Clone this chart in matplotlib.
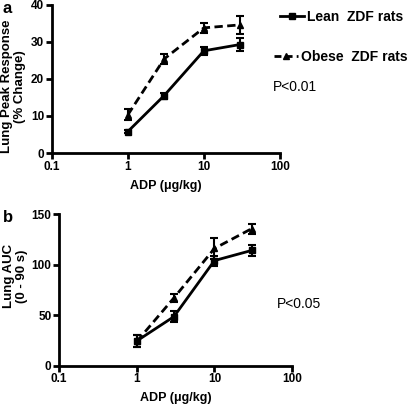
import matplotlib
matplotlib.use("Agg")
import matplotlib.pyplot as plt
from matplotlib.lines import Line2D

plt.rcParams['font.family'] = ['Liberation Sans', 'DejaVu Sans']

# doses (ug/kg)
dose = [1, 3, 10, 30]

# panel a: lung peak response (% change)
lean_peak = [5.8, 15.5, 27.6, 29.3]
lean_peak_err = [0.4, 0.8, 1.0, 1.8]
obese_peak = [10.3, 25.4, 33.8, 34.6]
obese_peak_err = [1.5, 1.4, 1.4, 2.5]

# panel b: lung AUC (0 - 90 s)
lean_auc = [24.5, 48.5, 104.0, 114.0]
lean_auc_err = [6.0, 5.5, 5.0, 5.5]
obese_auc = [24.0, 67.0, 116.0, 135.5]
obese_auc_err = [6.0, 4.0, 10.5, 5.0]

xticks = [0.1, 1, 10, 100]
xticklabels = ['0.1', '1', '10', '100']

fig = plt.figure(figsize=(4.08, 4.07), dpi=100)
ax1 = fig.add_axes([0.127, 0.624, 0.559, 0.364])
ax2 = fig.add_axes([0.145, 0.1015, 0.571, 0.3725])


def style_axis(ax, ylim, yticks):
    ax.set_xscale('log')
    ax.set_xlim(0.1, 100)
    ax.set_ylim(*ylim)
    ax.set_xticks(xticks)
    ax.set_xticklabels(xticklabels)
    ax.minorticks_off()
    ax.set_yticks(yticks)
    for s in ['top', 'right']:
        ax.spines[s].set_visible(False)
    for s in ['left', 'bottom']:
        ax.spines[s].set_linewidth(2)
    ax.tick_params(width=2, length=4, labelsize=8.5, direction='out', pad=1.5)
    for t in ax.get_xticklabels() + ax.get_yticklabels():
        t.set_fontweight('bold')
    ax.set_xlabel(u'ADP (\u03bcg/kg)', fontsize=9, fontweight='bold', labelpad=5)


def draw(ax, lean, lean_err, obese, obese_err):
    ax.errorbar(dose, lean, yerr=lean_err, color='black', lw=2, marker='s',
                ms=5, capsize=3, capthick=1.5, elinewidth=1.5, clip_on=False)
    ax.errorbar(dose, obese, yerr=obese_err, color='black', lw=2, ls='--',
                dashes=(3, 1.6), marker='^', ms=5, capsize=3, capthick=1.5,
                elinewidth=1.5, clip_on=False)


draw(ax1, lean_peak, lean_peak_err, obese_peak, obese_peak_err)
style_axis(ax1, (0, 40), [0, 10, 20, 30, 40])
ax1.set_ylabel('Lung Peak Response\n(% Change)', fontsize=9.5, fontweight='bold',
               linespacing=1.1)
ax1.yaxis.set_label_coords(-0.112, 0.45)

draw(ax2, lean_auc, lean_auc_err, obese_auc, obese_auc_err)
style_axis(ax2, (0, 150), [0, 50, 100, 150])
ax2.set_ylabel('Lung AUC\n(0 - 90 s)', fontsize=9.5, fontweight='bold',
               linespacing=1.1)
ax2.yaxis.set_label_coords(-0.135, 0.59)

# legend on the right: two separate entries, as in the original
lean_handle = Line2D([], [], color='black', lw=2, marker='s', ms=4)
obese_handle = Line2D([], [], color='black', lw=2, ls='--', dashes=(2.5, 1.5),
                      marker='^', ms=4)
leg1 = fig.legend([lean_handle], ['Lean  ZDF rats'], loc='center left',
                  bbox_to_anchor=(0.686, 0.958), frameon=False, borderpad=0,
                  borderaxespad=0, prop={'size': 10, 'weight': 'bold'},
                  handlelength=1.75, handletextpad=0.2)
leg2 = fig.legend([obese_handle], ['Obese  ZDF rats'], loc='center left',
                  bbox_to_anchor=(0.672, 0.86), frameon=False, borderpad=0,
                  borderaxespad=0, prop={'size': 10, 'weight': 'bold'},
                  handlelength=1.75, handletextpad=0.15)

fig.text(0.669, 0.786, 'P<0.01', fontsize=10, va='center')
fig.text(0.679, 0.253, 'P<0.05', fontsize=10, va='center')

fig.text(0.007, 0.979, 'a', fontsize=12, fontweight='bold', va='center')
fig.text(0.007, 0.466, 'b', fontsize=12, fontweight='bold', va='center')

fig.savefig('out.png', dpi=100)
